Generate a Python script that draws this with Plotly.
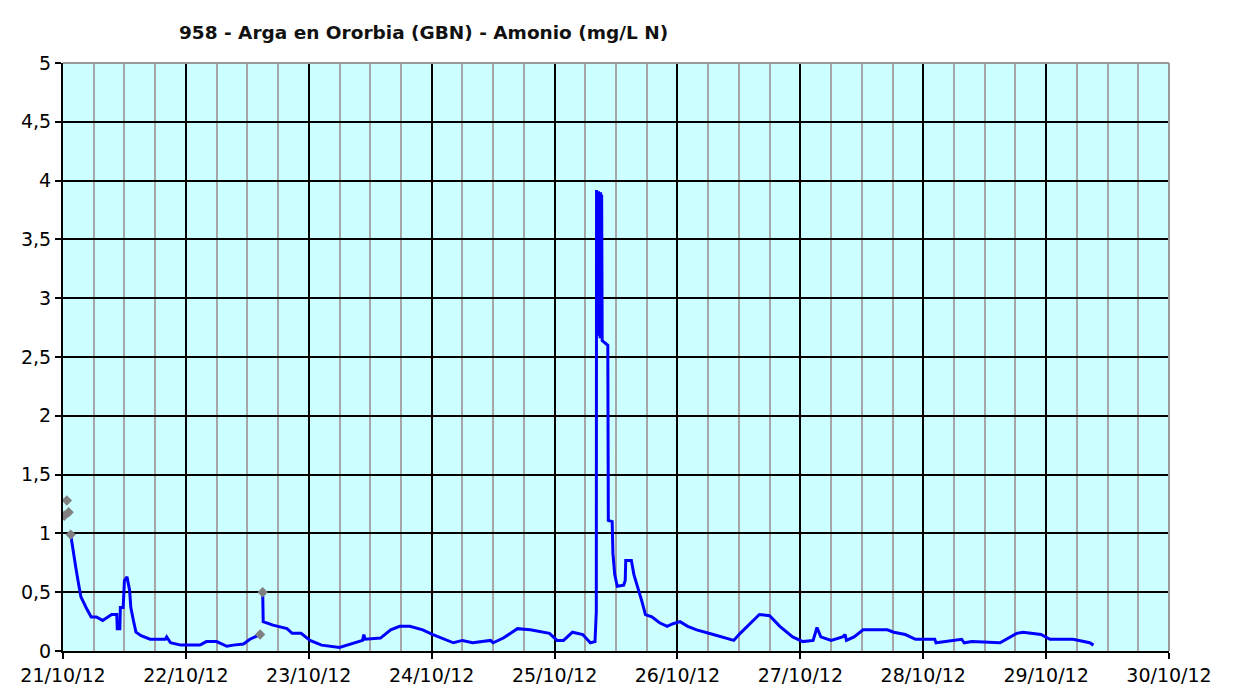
import pandas as pd
import plotly.graph_objects as go

# hours since 21/10/12 00:00 and measured ammonium (mg/L N)
hours = [
    1.5, 2.0, 2.5, 3.0, 3.5, 4.5, 5.5, 6.5, 7.75, 9.5, 10.5, 10.6, 11.1,
    11.2, 11.75, 12.0, 12.5, 13.0, 13.25, 13.75, 14.25, 15.25, 17.0, 20.0,
    20.25, 21.0, 23.0, 26.75, 28.0, 30.0, 32.0, 33.25, 35.25, 36.5, 38.5,
    38.75,
    39.0, 39.1, 41.0, 43.75, 44.75, 46.5, 48.25, 50.5, 54.0, 56.5, 58.5,
    58.75, 59.0, 62.0, 64.0, 65.75, 67.75, 70.25, 72.25, 76.25, 78.0, 80.0,
    83.5, 84.0, 86.0, 88.75, 91.25, 95.0, 96.5, 97.75, 99.5, 101.5, 102.5,
    103.0, 103.9, 104.0, 104.15, 104.2, 104.3, 104.4, 104.5, 104.6, 104.7,
    104.8, 104.9, 105.0, 105.1, 105.2, 105.3, 106.4, 106.5, 107.25, 107.4,
    107.75, 108.25, 109.5, 109.8, 109.9, 111.0, 111.5, 112.25, 113.0,
    113.75, 115.0, 116.5, 118.0, 119.0, 120.5, 122.0, 123.75, 127.0, 131.0,
    132.25, 136.0, 138.0, 140.0, 142.5, 144.5, 146.5, 147.25, 148.0, 150.0,
    152.25, 152.75, 153.0, 154.5, 156.25, 159.0, 161.0, 162.25, 164.5, 166.5,
    170.25, 170.5, 175.5, 176.0, 177.5, 183.0, 184.25, 186.25, 187.5, 191.0,
    192.75, 197.25, 200.5, 201.25,
]
amonio = [
    0.99, 0.83, 0.71, 0.58, 0.46, 0.37, 0.29, 0.29, 0.26, 0.31, 0.31, 0.19, 0.19,
    0.37, 0.37, 0.60, 0.63, 0.52, 0.37, 0.26, 0.16, 0.13, 0.10, 0.10,
    0.12, 0.07, 0.05, 0.05, 0.08, 0.08, 0.04, 0.05, 0.06, 0.10, 0.14,
    None,
    0.50, 0.25, 0.22, 0.19, 0.15, 0.15, 0.09, 0.05, 0.03, 0.06, 0.09,
    0.14, 0.10, 0.11, 0.18, 0.21, 0.21, 0.18, 0.14, 0.07, 0.09, 0.07,
    0.09, 0.07, 0.11, 0.19, 0.18, 0.15, 0.09, 0.09, 0.16, 0.14, 0.09,
    0.07, 0.08, 0.32, 0.33, 3.92, 2.70, 3.90, 2.68, 3.91, 2.72,
    3.89, 2.66, 3.90, 2.70, 3.88, 2.64, 2.60, 1.11, 1.10, 0.83,
    0.65, 0.55, 0.56, 0.60, 0.77, 0.77, 0.65, 0.55, 0.43,
    0.31, 0.29, 0.24, 0.21, 0.23, 0.25, 0.21, 0.18, 0.14, 0.09,
    0.15, 0.31, 0.30, 0.21, 0.12, 0.08, 0.09, 0.20, 0.12, 0.09,
    0.12, 0.14, 0.09, 0.12, 0.18, 0.18, 0.18, 0.16, 0.14, 0.10,
    0.10, 0.07, 0.10, 0.07, 0.08, 0.07, 0.10, 0.15, 0.16, 0.14,
    0.10, 0.10, 0.07, 0.05,
]

# flagged values (grey diamonds)
flag_hours = [0.25, 0.75, 1.1, 1.5, 38.5, 39.0]
flag_values = [1.15, 1.28, 1.18, 0.99, 0.14, 0.50]

start = pd.Timestamp('2012-10-21 00:00')
t = start + pd.to_timedelta(hours, unit='h')
t_flag = start + pd.to_timedelta(flag_hours, unit='h')

fig = go.Figure()
fig.add_trace(go.Scatter(
    x=t, y=amonio, mode='lines',
    line=dict(color='#0000FF', width=3), connectgaps=False,
    hoverinfo='x+y', showlegend=False,
))
fig.add_trace(go.Scatter(
    x=t_flag, y=flag_values, mode='markers',
    marker=dict(symbol='diamond', color='#808080', size=8),
    showlegend=False,
))

# grey frame on top and right
fig.add_shape(type='line', xref='paper', yref='paper', x0=0, x1=1, y0=1, y1=1,
              line=dict(color='#999999', width=2))
fig.add_shape(type='line', xref='paper', yref='paper', x0=1, x1=1, y0=0, y1=1,
              line=dict(color='#999999', width=2))

# page body adds ~8px offset, margins compensate for it
fig.update_layout(
    width=1251, height=686,
    margin=dict(l=55, r=90, t=55, b=43),
    paper_bgcolor='white',
    plot_bgcolor='#CCFFFF',
    separators=', ',
    font=dict(family='DejaVu Sans', size=19, color='#000000'),
    title=dict(
        text='<b>958 - Arga en Ororbia (GBN) - Amonio (mg/L N)</b>',
        x=0.326, xanchor='center', xref='paper',
        y=0.964, yanchor='middle',
        font=dict(size=18.5, color='#111111'),
    ),
    xaxis=dict(
        type='date', automargin=False,
        range=['2012-10-21 00:00', '2012-10-30 00:00'],
        dtick=86400000, tick0='2012-10-21',
        tickformat='%d/%m/%y',
        showgrid=True, gridcolor='#000000', gridwidth=1.5,
        minor=dict(dtick=21600000, showgrid=True, gridcolor='#A6A6A6', gridwidth=2),
        showline=True, linecolor='#000000', linewidth=2,
        ticks='outside', ticklen=6, tickcolor='#000000', tickwidth=2,
        zeroline=False,
    ),
    yaxis=dict(
        range=[0, 5], dtick=0.5, automargin=False,
        showgrid=True, gridcolor='#000000', gridwidth=1.5,
        showline=True, linecolor='#000000', linewidth=2,
        ticks='outside', ticklen=6, tickcolor='#000000', tickwidth=2,
        zeroline=False,
    ),
)

fig.write_html('out.html')
